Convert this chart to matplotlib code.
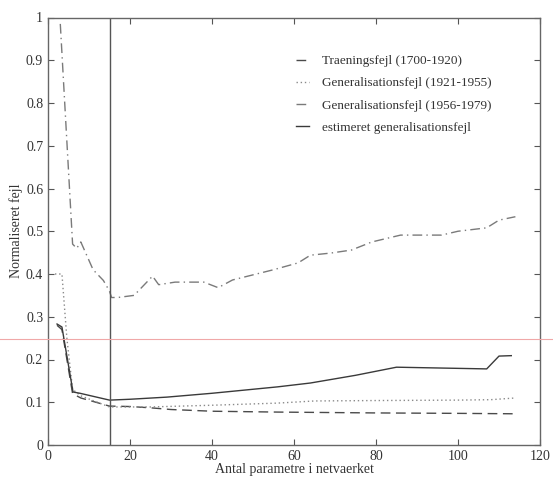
import matplotlib
matplotlib.use("Agg")
import matplotlib.pyplot as plt
from matplotlib.lines import Line2D

# --- data ---
train_x = [2.2, 3.4, 6.0, 8.0, 15.0, 20.0, 25.0, 30.0, 40.0, 56.0, 80.0, 100.0, 114.0]
train_y = [0.28, 0.27, 0.12, 0.11, 0.091, 0.090, 0.087, 0.083, 0.079, 0.077, 0.075, 0.074, 0.073]

gen1_x = [1.7, 3.4, 4.6, 6.0, 8.0, 15.0, 25.0, 40.0, 56.0, 65.0, 80.0, 100.0, 108.0, 111.0, 114.0]
gen1_y = [0.40, 0.40, 0.25, 0.13, 0.115, 0.089, 0.089, 0.093, 0.098, 0.103, 0.104, 0.105, 0.106, 0.108, 0.110]

gen2_x = [3.0, 6.0, 7.0, 8.0, 11.0, 13.5, 15.0, 15.5, 17.0, 21.0, 25.5, 27.0, 31.0, 35.0,
          38.0, 41.5, 45.0, 50.0, 55.0, 61.0, 64.0, 69.0, 74.0, 79.0, 86.0, 96.0, 100.0,
          107.0, 110.0, 114.0]
gen2_y = [0.985, 0.47, 0.46, 0.475, 0.41, 0.385, 0.36, 0.345, 0.345, 0.35, 0.395, 0.375,
          0.381, 0.381, 0.381, 0.368, 0.386, 0.398, 0.41, 0.426, 0.444, 0.449, 0.456,
          0.475, 0.491, 0.491, 0.50, 0.508, 0.526, 0.534]

est_x = [2.2, 3.4, 6.1, 7.8, 15.0, 20.0, 29.0, 40.0, 56.0, 64.0, 75.0, 85.0, 107.0, 110.0, 113.0]
est_y = [0.283, 0.276, 0.124, 0.121, 0.105, 0.107, 0.112, 0.121, 0.136, 0.145, 0.163, 0.182, 0.178, 0.208, 0.209]

vline_x = 15.0
labels = ["Traeningsfejl (1700-1920)", "Generalisationsfejl (1921-1955)",
          "Generalisationsfejl (1956-1979)", "estimeret generalisationsfejl"]
xticks = [0, 20, 40, 60, 80, 100, 120]
yticks = [0, 0.1, 0.2, 0.3, 0.4, 0.5, 0.6, 0.7, 0.8, 0.9, 1]
ytick_labels = ["0", "0.1", "0.2", "0.3", "0.4", "0.5", "0.6", "0.7", "0.8", "0.9", "1"]

plt.rcParams['font.family'] = ['Liberation Serif', 'DejaVu Serif']

fig = plt.figure(figsize=(5.53, 4.79), dpi=100)
ax = fig.add_axes([48/553, 1-445/479, (540-48)/553, (445-17.5)/479])

l1, = ax.plot(train_x, train_y, color='#4a4a4a', lw=1.0, linestyle=(0, (7, 4)))
l2, = ax.plot(gen1_x, gen1_y, color='#8a8a8a', lw=1.0, linestyle=(0, (1, 2)))
l3, = ax.plot(gen2_x, gen2_y, color='#7a7a7a', lw=1.0, linestyle=(0, (7, 3, 1, 3)))
l4, = ax.plot(est_x, est_y, color='#3a3a3a', lw=1.0, linestyle='-')
ax.axvline(vline_x, color='#555555', lw=1.0)

ax.set_xlim(0, 120)
ax.set_ylim(0, 1)
ax.set_xticks(xticks)
ax.set_yticks(yticks)
ax.set_yticklabels(ytick_labels)
ax.tick_params(direction='in', top=True, right=True, length=4, width=0.8,
               colors='#555555', labelcolor='#333333', labelsize=10)
for s in ax.spines.values():
    s.set_color('#666666')
    s.set_linewidth(1.0)

ax.set_xlabel("Antal parametre i netvaerket", fontsize=10, color='#333333', labelpad=0)
ax.set_ylabel("Normaliseret fejl", fontsize=10, color='#333333', labelpad=2)

ax.legend([l1, l2, l3, l4], labels, loc='upper left', bbox_to_anchor=(0.48, 0.94),
          frameon=False, handlelength=1.0, handletextpad=1.0, labelspacing=0.75,
          fontsize=9.5, labelcolor='#333333')

# scan artifact: faint pink horizontal line across the page
fig.add_artist(Line2D([0, 1], [1-339/479, 1-339/479], transform=fig.transFigure,
                      color='#f0a8a8', lw=0.8))

fig.savefig("out.png", dpi=100)
